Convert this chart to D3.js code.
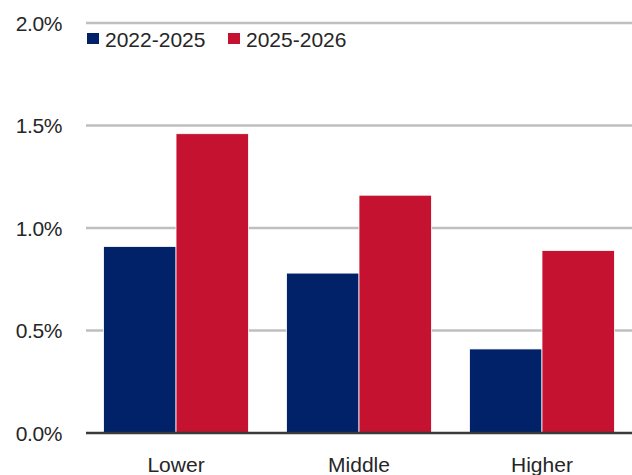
<!DOCTYPE html>
<html>
<head>
<meta charset="utf-8">
<script src="https://cdn.jsdelivr.net/npm/d3@7.9.0/dist/d3.min.js"></script>
<style>
  html, body { margin: 0; padding: 0; background: #fff; }
  svg { display: block; font-family: "Liberation Sans", Arial, sans-serif; }
</style>
</head>
<body>
<svg width="632" height="475"></svg>
<script>
// === Data ===
const categories = ['Lower', 'Middle', 'Higher'];
const seriesNames = ['2022-2025', '2025-2026'];
const values2022_2025 = [0.91, 0.78, 0.41];
const values2025_2026 = [1.46, 1.16, 0.89];
const yTicks = [0, 0.5, 1.0, 1.5, 2.0];
const colors = ['#012169', '#c41230'];

const svg = d3.select('svg');
const width = 632;

const y = d3.scaleLinear().domain([0, 2]).range([433, 23]);
const x = d3.scaleBand().domain(categories).range([86, 632])
  .paddingInner(0.208).paddingOuter(0.096);
const xSub = d3.scaleBand().domain(seriesNames).range([0, x.bandwidth()]);

// gridlines
svg.append('g')
  .selectAll('line')
  .data(yTicks.filter(d => d > 0))
  .join('line')
  .attr('x1', 86).attr('x2', width)
  .attr('y1', d => y(d)).attr('y2', d => y(d))
  .attr('stroke', '#bfbfbf').attr('stroke-width', 2.5);

// y tick labels
svg.append('g')
  .selectAll('text')
  .data(yTicks)
  .join('text')
  .attr('x', 62).attr('y', d => y(d))
  .attr('text-anchor', 'end').attr('dominant-baseline', 'central')
  .attr('font-size', 21).attr('letter-spacing', -0.4).attr('fill', '#262626')
  .text(d => d3.format('.1f')(d) + '%');

// bars
const rows = categories.map((c, i) => ({
  cat: c,
  vals: [values2022_2025[i], values2025_2026[i]]
}));

const groups = svg.append('g')
  .selectAll('g')
  .data(rows)
  .join('g')
  .attr('transform', d => `translate(${x(d.cat)},0)`);

groups.selectAll('rect')
  .data(d => d.vals.map((v, k) => ({ v, k })))
  .join('rect')
  .attr('x', d => xSub(seriesNames[d.k]))
  .attr('width', xSub.bandwidth())
  .attr('y', d => y(d.v))
  .attr('height', d => y(0) - y(d.v))
  .attr('fill', d => colors[d.k])
  .attr('stroke', '#fff').attr('stroke-width', 0.8);

// baseline
svg.append('line')
  .attr('x1', 86).attr('x2', width)
  .attr('y1', y(0)).attr('y2', y(0))
  .attr('stroke', '#3a3a3a').attr('stroke-width', 2.5);

// category labels
svg.append('g')
  .selectAll('text')
  .data(categories)
  .join('text')
  .attr('x', d => x(d) + x.bandwidth() / 2)
  .attr('y', 472)
  .attr('text-anchor', 'middle')
  .attr('font-size', 21).attr('fill', '#262626')
  .text(d => d);

// legend
const legendX = [87, 228];
const legend = svg.append('g')
  .selectAll('g')
  .data(seriesNames)
  .join('g')
  .attr('transform', (d, i) => `translate(${legendX[i]},0)`);

legend.append('rect')
  .attr('x', 0).attr('y', 33)
  .attr('width', 12).attr('height', 11)
  .attr('fill', (d, i) => colors[i]);

legend.append('text')
  .attr('x', 18).attr('y', 47)
  .attr('font-size', 21).attr('fill', '#262626')
  .text(d => d);
</script>
</body>
</html>
